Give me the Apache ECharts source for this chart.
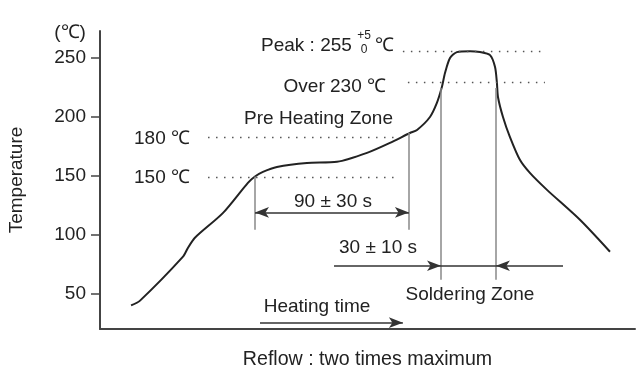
<!DOCTYPE html>
<html><head><meta charset="utf-8">
<script src="https://cdn.jsdelivr.net/npm/echarts@6/dist/echarts.min.js"></script>
<style>html,body{margin:0;padding:0;background:#fff}#c{width:642px;height:373px}</style>
</head><body><div id="c"></div>
<script>
// ---- data (time in s, temperature in ℃) ----
const curveTime = [18, 23.2, 48.1, 51.0, 55.0, 71.3, 85.7, 89.8, 94.4, 102.5, 119.9, 137.3, 154.7, 168.0, 179.6, 183.7, 191.2, 195.2, 198.1, 199.9, 202.8, 206.8, 214.4, 220.2, 226.0, 228.9, 230.0, 230.6, 233.5, 237.5, 243.3, 249.1, 259.0, 278.1, 295.5];
const curveTemp = [40, 44.1, 81.4, 89.0, 97.5, 118.6, 144.1, 149.5, 153.4, 157.6, 161.0, 161.9, 169.5, 178.0, 186.4, 189.0, 200.0, 211.9, 225.4, 237.3, 250.0, 255.1, 255.9, 255.1, 252.5, 242.4, 228.8, 217.0, 200.0, 183.1, 163.6, 152.5, 138.1, 112.7, 85.6];
const yTicks = [50, 100, 150, 200, 250];
// reference levels: [temperature, startTime, endTime]
const levelTemps = [149, 183, 229.7, 255.9];
const levelStart = [62.6, 62.6, 178.4, 175.5];
const levelEnd = [173.8, 173.8, 257.8, 256.1];
// preheat window (90 ± 30 s) and soldering window (30 ± 10 s)
const preheatWin = [89.8, 179.0];
const preheatTop = [149.5, 186.4];
const preheatArrowTemp = 119;
const preheatBottom = 104.2;
const solderWin = [197.6, 229.4];
const solderTop = 224.6;
const solderBottom = 61.9;
const solderArrowTemp = 73.7;
const solderArrowOuter = [135.6, 268.3];
const heatingArrow = [92.7, 175.5];
const heatingArrowTemp = 25.4;

const FONT = '"Liberation Sans", Arial, sans-serif';
const TXT = '#222';
const chart = echarts.init(document.getElementById('c'));

const dot = {color: '#555', width: 1.3, type: [1.5, 6.5]};
const vline = {color: '#888', width: 1.5, type: 'solid'};
const aline = {color: '#333', width: 1.5, type: 'solid'};

const mlData = [];
levelTemps.forEach((t, i) => {
  mlData.push([{coord: [levelStart[i], t], symbol: 'none', lineStyle: dot}, {coord: [levelEnd[i], t], symbol: 'none'}]);
});
mlData.push([{coord: [preheatWin[0], preheatTop[0]], symbol: 'none', lineStyle: vline}, {coord: [preheatWin[0], preheatBottom], symbol: 'none'}]);
mlData.push([{coord: [preheatWin[1], preheatTop[1]], symbol: 'none', lineStyle: vline}, {coord: [preheatWin[1], preheatBottom], symbol: 'none'}]);
solderWin.forEach(x => mlData.push([{coord: [x, solderTop], symbol: 'none', lineStyle: vline}, {coord: [x, solderBottom], symbol: 'none'}]));
mlData.push([{coord: [preheatWin[0], preheatArrowTemp], symbol: 'arrow', lineStyle: aline}, {coord: [preheatWin[1], preheatArrowTemp], symbol: 'arrow'}]);
mlData.push([{coord: [solderArrowOuter[0], solderArrowTemp], symbol: 'none', lineStyle: aline}, {coord: [solderWin[0], solderArrowTemp], symbol: 'arrow'}]);
mlData.push([{coord: [solderWin[0], solderArrowTemp], symbol: 'none', lineStyle: aline}, {coord: [solderWin[1], solderArrowTemp], symbol: 'none'}]);
mlData.push([{coord: [solderArrowOuter[1], solderArrowTemp], symbol: 'none', lineStyle: aline}, {coord: [solderWin[1], solderArrowTemp], symbol: 'arrow'}]);
mlData.push([{coord: [heatingArrow[0], heatingArrowTemp], symbol: 'none', lineStyle: aline}, {coord: [heatingArrow[1], heatingArrowTemp], symbol: 'arrow'}]);

function txt(x, y, s, align, size) {
  return {type: 'text', x: x, y: y, style: {text: s, fill: TXT, font: (size || 19) + 'px ' + FONT, textAlign: align || 'left', textVerticalAlign: 'middle'}};
}

chart.setOption({
  animation: false,
  grid: {left: 100, right: 7, top: 31, bottom: 44, containLabel: false, outerBoundsMode: 'none'},
  xAxis: {
    type: 'value', min: 0, max: 310,
    axisLine: {show: true, lineStyle: {color: '#444', width: 2}},
    axisTick: {show: false}, axisLabel: {show: false}, splitLine: {show: false},
    name: 'Reflow : two times maximum', nameLocation: 'middle', nameGap: 21,
    nameTextStyle: {color: TXT, fontSize: 19.6, fontFamily: FONT}
  },
  yAxis: {
    type: 'value', min: 20, max: 273,
    axisLine: {show: true, lineStyle: {color: '#444', width: 2}},
    axisTick: {show: true, length: 9, customValues: yTicks, lineStyle: {color: '#444', width: 1.5}},
    axisLabel: {customValues: yTicks, color: TXT, fontSize: 19, fontFamily: FONT, margin: 14},
    splitLine: {show: false},
    name: 'Temperature', nameLocation: 'middle', nameRotate: 90, nameGap: 74,
    nameTextStyle: {color: TXT, fontSize: 19, fontFamily: FONT}
  },
  series: [{
    type: 'line',
    data: curveTime.map((t, i) => [t, curveTemp[i]]),
    smooth: 0.25, showSymbol: false,
    lineStyle: {color: '#222', width: 2},
    markLine: {silent: true, symbolSize: [8, 14], label: {show: false}, animation: false, data: mlData}
  }],
  graphic: [
    txt(70, 33, '(℃)', 'center'),
    txt(190, 139, '180 ℃', 'right'),
    txt(190, 178, '150 ℃', 'right'),
    txt(261, 46, 'Peak : 255', 'left'),
    txt(364, 36, '+5', 'center', 12),
    txt(364, 50, '0', 'center', 12),
    txt(375, 46, '℃', 'left'),
    txt(386, 87, 'Over 230 ℃', 'right'),
    txt(393, 119, 'Pre Heating Zone', 'right'),
    txt(333, 202, '90 ± 30 s', 'center'),
    txt(378, 248, '30 ± 10 s', 'center'),
    txt(470, 295, 'Soldering Zone', 'center'),
    txt(317, 307, 'Heating time', 'center')
  ]
});
</script></body></html>
